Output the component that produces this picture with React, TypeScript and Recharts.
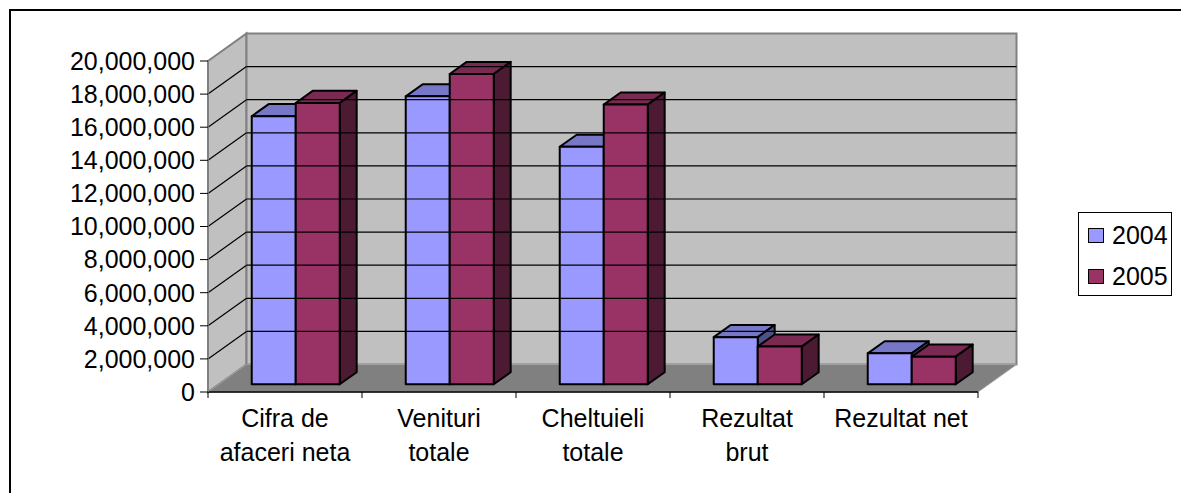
import React from 'react';
import { BarChart, Bar, XAxis, YAxis, Legend, ReferenceArea, ReferenceLine } from 'recharts';

const categories = ['Cifra de\nafaceri neta', 'Venituri\ntotale', 'Cheltuieli\ntotale', 'Rezultat\nbrut', 'Rezultat net'];
const values2004 = [16200000, 17400000, 14350000, 2850000, 1870000];
const values2005 = [17000000, 18750000, 16900000, 2280000, 1670000];
const yTicks = [0, 2000000, 4000000, 6000000, 8000000, 10000000, 12000000, 14000000, 16000000, 18000000, 20000000];
const seriesNames = ['2004', '2005'];

const data = categories.map((cat, i) => ({ cat, y2004: values2004[i], y2005: values2005[i] }));

const FONT = '"Liberation Sans", Arial, sans-serif';
// depth of the 3d box (back plane offset from the front plane)
const DX = 38.5;
const DY = -27.5;
const BAR_FRONT = 0.28;
const BAR_DEPTH = 0.44;

const colors = {
  '2004': { front: '#9999FF', top: '#7777C8', side: '#505088' },
  '2005': { front: '#993366', top: '#7A2952', side: '#4D1A33' },
};

const makeBar3D = (c: { front: string; top: string; side: string }) => (props: any) => {
  const { x, y, width, height } = props;
  if (width == null || height == null) return null;
  const fx = x + DX * BAR_FRONT;
  const fy = y + DY * BAR_FRONT;
  const bx = DX * BAR_DEPTH;
  const by = DY * BAR_DEPTH;
  const w = width;
  const h = height;
  const stroke = { stroke: '#000', strokeWidth: 2, strokeLinejoin: 'round' as const };
  return (
    <g>
      <polygon
        points={`${fx},${fy} ${fx + bx},${fy + by} ${fx + w + bx},${fy + by} ${fx + w},${fy}`}
        fill={c.top}
        {...stroke}
      />
      <polygon
        points={`${fx + w},${fy} ${fx + w + bx},${fy + by} ${fx + w + bx},${fy + h + by} ${fx + w},${fy + h}`}
        fill={c.side}
        {...stroke}
      />
      <rect x={fx} y={fy} width={w} height={h} fill={c.front} {...stroke} />
    </g>
  );
};

const Walls = (props: any) => {
  const { x, y, width: w, height: h } = props;
  return (
    <g>
      <polygon
        points={`${x},${y} ${x + DX},${y + DY} ${x + DX},${y + h + DY} ${x},${y + h}`}
        fill="#C0C0C0"
        stroke="#808080"
        strokeWidth={2}
      />
      <rect x={x + DX} y={y + DY} width={w} height={h} fill="#C0C0C0" stroke="#808080" strokeWidth={2} />
      <polygon
        points={`${x},${y + h} ${x + DX},${y + h + DY} ${x + w + DX},${y + h + DY} ${x + w},${y + h}`}
        fill="#808080"
        stroke="#A0A0A0"
        strokeWidth={1}
      />
    </g>
  );
};

const GridLine3D = (props: any) => {
  const { x1, y1, x2, y2 } = props;
  if (x1 == null) return null;
  return (
    <g>
      <line x1={x1} y1={y1} x2={x1 + DX} y2={y1 + DY} stroke="#000" strokeWidth={1.2} />
      <line x1={x1 + DX} y1={y1 + DY} x2={x2 + DX} y2={y2 + DY} stroke="#000" strokeWidth={1.2} />
    </g>
  );
};

const CategoryTick = (props: any) => {
  const { x, y, payload, index, width } = props;
  const band = width / categories.length;
  const lines = String(payload.value).split('\n');
  const left = x - band / 2;
  return (
    <g>
      <line x1={left} y1={y - 8} x2={left} y2={y - 2} stroke="#000" strokeWidth={1} />
      {index === categories.length - 1 && (
        <line x1={left + band} y1={y - 8} x2={left + band} y2={y - 2} stroke="#000" strokeWidth={1} />
      )}
      <text x={x} y={y} textAnchor="middle" fontSize={25} fontFamily={FONT} fill="#000">
        {lines.map((l, i) => (
          <tspan key={i} x={x} dy={i === 0 ? 27 : 34}>
            {l}
          </tspan>
        ))}
      </text>
    </g>
  );
};

const renderLegend = () => (
  <div
    style={{
      width: 94,
      height: 84,
      boxSizing: 'border-box',
      border: '1px solid #000',
      background: '#fff',
      padding: '2px 0 0 9px',
      fontFamily: FONT,
      fontSize: 25,
      color: '#000',
    }}
  >
    {seriesNames.map(name => (
      <div key={name} style={{ display: 'flex', alignItems: 'center', height: 41 }}>
        <span
          style={{
            display: 'inline-block',
            width: 16,
            height: 15,
            boxSizing: 'border-box',
            border: '1.5px solid #000',
            background: colors[name as '2004' | '2005'].front,
            marginRight: 8,
          }}
        />
        <span>{name}</span>
      </div>
    ))}
  </div>
);

export default function App() {
  return (
    <div style={{ position: 'absolute', left: 0, top: 0, width: 1181, height: 493, overflow: 'hidden', background: '#fff' }}>
      <div
        style={{
          position: 'absolute',
          left: 9,
          top: 9,
          width: 1400,
          height: 700,
          borderTop: '2px solid #000',
          borderLeft: '2px solid #000',
        }}
      />
      <div style={{ position: 'absolute', left: 0, top: 0 }}>
        <BarChart
          width={1181}
          height={493}
          data={data}
          margin={{ top: 61, right: 109, bottom: 41, left: 18 }}
          barCategoryGap="21.4%"
          barGap={0}
        >
          <ReferenceArea yAxisId={0} y1={0} y2={20000000} shape={Walls} ifOverflow="visible" />
          {yTicks.slice(1, -1).map(v => (
            <ReferenceLine key={v} y={v} shape={GridLine3D} ifOverflow="visible" />
          ))}
          <XAxis
            dataKey="cat"
            interval={0}
            height={60}
            tickLine={false}
            tickSize={6}
            tickMargin={2}
            axisLine={{ stroke: '#000', strokeWidth: 1.5 }}
            tick={<CategoryTick />}
          />
          <YAxis
            domain={[0, 20000000]}
            ticks={yTicks}
            interval={0}
            width={190}
            tickSize={8}
            tickMargin={5}
            axisLine={{ stroke: '#808080', strokeWidth: 1.5 }}
            tickLine={{ stroke: '#000' }}
            tick={{ fill: '#000', fontSize: 25, fontFamily: FONT }}
            tickFormatter={(v: number) => v.toLocaleString('en-US')}
          />
          <Legend
            layout="vertical"
            align="right"
            verticalAlign="top"
            content={renderLegend}
            wrapperStyle={{ left: 1078, top: 212, right: 'auto', width: 94 }}
          />
          <Bar dataKey="y2004" name="2004" shape={makeBar3D(colors['2004'])} isAnimationActive={false} />
          <Bar dataKey="y2005" name="2005" shape={makeBar3D(colors['2005'])} isAnimationActive={false} />
        </BarChart>
      </div>
    </div>
  );
}
